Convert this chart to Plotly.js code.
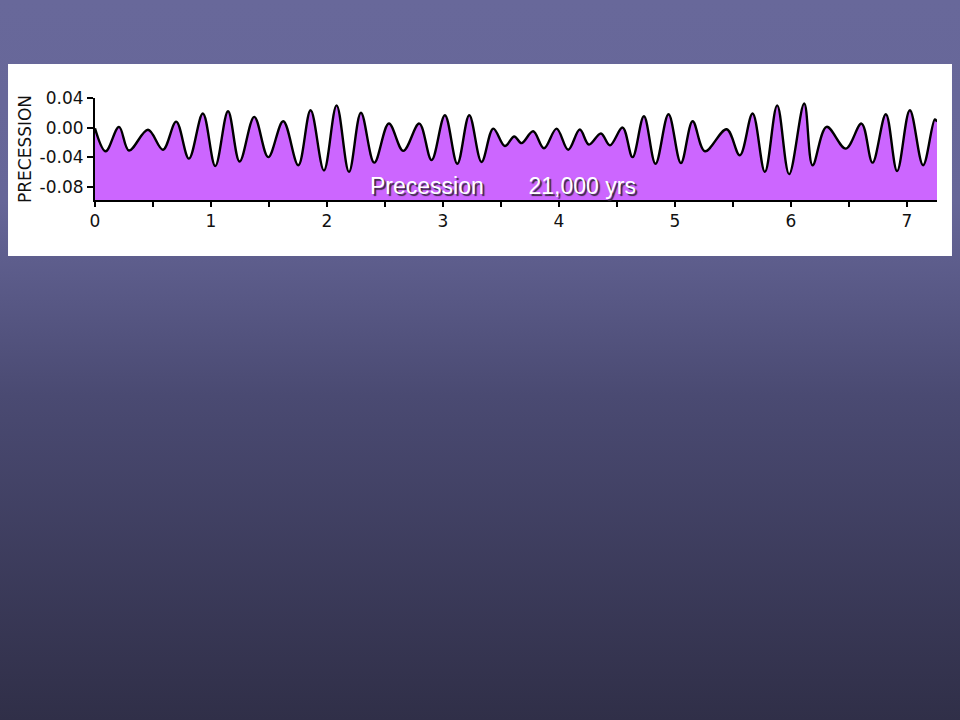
<!DOCTYPE html>
<html>
<head>
<meta charset="utf-8">
<script src="https://cdn.plot.ly/plotly-3.0.1.min.js"></script>
<style>
html,body{margin:0;padding:0;width:960px;height:720px;overflow:hidden;
background:linear-gradient(to bottom,#68689a 0%,#666698 28%,#4a4a72 55%,#302f48 100%);}
#chart{width:960px;height:720px;}
</style>
</head>
<body>
<div id="chart"></div>
<script>
// Time (million years ago) at each turning point of the precession curve
const timeMyr = [0.00,0.092,0.207,0.293,0.457,0.586,0.70,0.81,0.93,1.037,1.147,1.247,
  1.373,1.494,1.623,1.753,1.859,1.974,2.083,2.19,2.293,2.408,2.534,2.658,2.796,2.902,
  3.017,3.124,3.227,3.333,3.434,3.534,3.615,3.678,3.778,3.871,3.98,4.08,4.18,4.259,
  4.362,4.44,4.549,4.635,4.733,4.833,4.945,5.052,5.153,5.259,5.446,5.56,5.67,5.776,
  5.882,5.985,6.115,6.187,6.308,6.474,6.609,6.704,6.819,6.916,7.026,7.14,7.241,7.26];
// Precession index at those points
const precession = [-0.001,-0.032,0.001,-0.031,-0.003,-0.030,0.008,-0.042,0.019,-0.052,0.022,-0.046,
  0.0145,-0.040,0.0086,-0.051,0.0235,-0.058,0.030,-0.060,0.020,-0.0475,0.0054,-0.0316,0.0054,-0.044,
  0.0167,-0.049,0.0167,-0.0465,-0.0014,-0.025,-0.012,-0.021,-0.005,-0.028,-0.0014,-0.030,-0.0027,-0.023,
  -0.008,-0.024,0.000,-0.040,0.0153,-0.049,0.018,-0.048,0.0086,-0.032,-0.0023,-0.0375,0.019,-0.060,
  0.030,-0.063,0.0325,-0.051,0.001,-0.0285,0.0054,-0.0475,0.018,-0.0587,0.0235,-0.051,0.011,0.008];

const yTickVals = [0.04,0.00,-0.04,-0.08];
const yTickText = ["0.04","0.00","-0.04","-0.08"];
const xTickVals = [0,0.5,1,1.5,2,2.5,3,3.5,4,4.5,5,5.5,6,6.5,7];
const xTickText = ["0","","1","","2","","3","","4","","5","","6","","7"];

const yMin = -0.098, yMax = 0.04, xMax = 7.26;

const baseline = {
  x: [timeMyr[0], timeMyr[timeMyr.length-1]],
  y: [yMin, yMin],
  mode: 'lines', line: {width: 0, color: 'rgba(0,0,0,0)'},
  hoverinfo: 'skip', showlegend: false
};
const curve = {
  x: timeMyr, y: precession,
  mode: 'lines', fill: 'tonexty', fillcolor: '#cc66ff',
  line: {shape: 'spline', smoothing: 1.0, color: '#000', width: 2.4},
  showlegend: false
};

const tickFont = {family: 'DejaVu Sans', size: 17, color: '#111'};

const layout = {
  width: 960, height: 720,
  margin: {l: 95, r: 23, t: 98, b: 520, pad: 0},
  paper_bgcolor: 'rgba(0,0,0,0)', plot_bgcolor: 'rgba(0,0,0,0)',
  showlegend: false,
  xaxis: {
    range: [0, xMax], showgrid: false, zeroline: false,
    showline: true, linecolor: '#000', linewidth: 2,
    tickmode: 'array', tickvals: xTickVals, ticktext: xTickText,
    ticks: 'outside', ticklen: 5, tickwidth: 2, tickcolor: '#000',
    tickfont: tickFont
  },
  yaxis: {
    range: [yMin, yMax], showgrid: false, zeroline: false,
    showline: true, linecolor: '#000', linewidth: 2,
    tickmode: 'array', tickvals: yTickVals, ticktext: yTickText,
    ticks: 'outside', ticklen: 6, tickwidth: 2, tickcolor: '#000',
    tickfont: tickFont,
    title: {text: 'PRECESSION', standoff: 4, font: {family: 'DejaVu Sans', size: 17, color: '#111'}}
  },
  shapes: [{
    type: 'rect', xref: 'paper', yref: 'paper', layer: 'below',
    x0: -0.1033, x1: 1.0178, y0: -0.549, y1: 1.333,
    fillcolor: '#ffffff', line: {width: 0}
  }],
  annotations: [{
    xref: 'paper', yref: 'paper', x: 0.3247, y: 0.14, xanchor: 'left', yanchor: 'middle',
    text: 'Precession&nbsp;&nbsp;&nbsp;&nbsp;&nbsp;&nbsp;&nbsp;21,000 yrs', showarrow: false,
    font: {family: 'Liberation Sans, Arial', size: 23, color: '#ffffff', shadow: '2px 2px 1px #3a2a40'}
  }]
};

Plotly.newPlot('chart', [baseline, curve], layout, {displayModeBar: false, staticPlot: true});
</script>
</body>
</html>
